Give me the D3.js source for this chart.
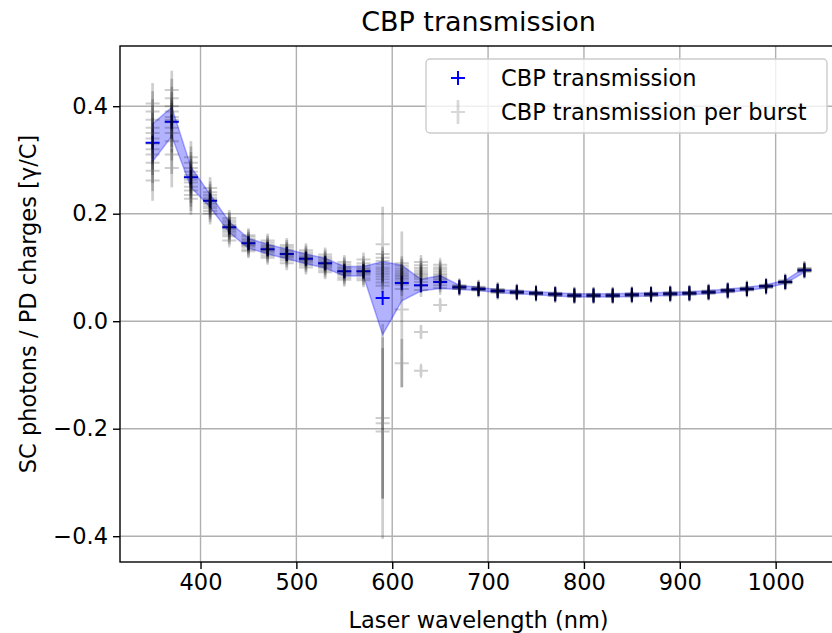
<!DOCTYPE html>
<html>
<head>
<meta charset="utf-8">
<script src="https://cdn.jsdelivr.net/npm/d3@7"></script>
<style>
    body { margin: 0; background: #fff; }
    text { font-family: "DejaVu Sans", sans-serif; fill: #000; }
</style>
</head>
<body>
<div id="Area"></div>
<script>
// ---------------------------------- Data ----------------------------------
var wavelengths = [350, 370, 390, 410, 430, 450, 470, 490, 510, 530, 550, 570, 590, 610, 630, 650, 670, 690,
    710, 730, 750, 770, 790, 810, 830, 850, 870, 890, 910, 930, 950, 970, 990, 1010, 1030];

// mean transmission per wavelength
var meanValues = [0.332, 0.371, 0.268, 0.224, 0.175, 0.145, 0.134, 0.125, 0.116, 0.108, 0.093, 0.093, 0.043,
    0.071, 0.067, 0.073, 0.063, 0.060, 0.056, 0.054, 0.052, 0.050, 0.048, 0.048, 0.048, 0.049, 0.050, 0.051,
    0.052, 0.054, 0.057, 0.060, 0.065, 0.073, 0.095];

// spread of the mean (shaded band)
var meanStd = [0.035, 0.027, 0.019, 0.012, 0.010, 0.009, 0.009, 0.009, 0.009, 0.009, 0.009, 0.009, 0.068,
    0.033, 0.011, 0.012, 0.004, 0.003, 0.003, 0.003, 0.003, 0.003, 0.003, 0.003, 0.003, 0.003, 0.003, 0.003,
    0.003, 0.003, 0.003, 0.003, 0.003, 0.003, 0.004];

// per burst values, one list per wavelength
var burstValues = [
    [0.405, 0.390, 0.375, 0.360, 0.350, 0.340, 0.330, 0.320, 0.310, 0.295, 0.280, 0.262],
    [0.430, 0.415, 0.400, 0.390, 0.380, 0.375, 0.370, 0.360, 0.350, 0.335, 0.310, 0.285],
    [0.305, 0.295, 0.285, 0.278, 0.272, 0.268, 0.263, 0.258, 0.250, 0.243, 0.235, 0.228],
    [0.248, 0.240, 0.235, 0.230, 0.227, 0.224, 0.221, 0.218, 0.214, 0.210, 0.205, 0.200],
    [0.192, 0.188, 0.184, 0.180, 0.178, 0.176, 0.174, 0.172, 0.169, 0.166, 0.162, 0.158],
    [0.160, 0.157, 0.153, 0.150, 0.148, 0.146, 0.144, 0.142, 0.140, 0.137, 0.133, 0.130],
    [0.150, 0.146, 0.142, 0.139, 0.137, 0.135, 0.133, 0.131, 0.129, 0.126, 0.122, 0.118],
    [0.142, 0.138, 0.134, 0.131, 0.128, 0.126, 0.124, 0.122, 0.120, 0.117, 0.113, 0.108],
    [0.132, 0.128, 0.124, 0.121, 0.119, 0.117, 0.115, 0.113, 0.111, 0.108, 0.104, 0.100],
    [0.124, 0.120, 0.116, 0.113, 0.110, 0.108, 0.106, 0.104, 0.102, 0.099, 0.095, 0.091],
    [0.110, 0.106, 0.102, 0.099, 0.096, 0.094, 0.092, 0.090, 0.088, 0.085, 0.081, 0.077],
    [0.115, 0.108, 0.103, 0.099, 0.096, 0.094, 0.092, 0.090, 0.088, 0.085, 0.080, 0.076],
    [0.125, 0.118, 0.112, 0.106, 0.100, 0.096, 0.092, 0.088, 0.083, 0.078, 0.072, 0.066],
    [0.108, 0.103, 0.098, 0.094, 0.090, 0.087, 0.084, 0.081, 0.078, 0.074, 0.068, 0.060],
    [0.110, 0.104, 0.099, 0.095, 0.091, 0.088, 0.085, 0.082, 0.078, 0.073, 0.066, 0.058],
    [0.105, 0.100, 0.096, 0.092, 0.088, 0.085, 0.082, 0.079, 0.076, 0.072, 0.067, 0.062],
    [0.067, 0.066, 0.065, 0.064, 0.063, 0.062, 0.061, 0.060],
    [0.064, 0.063, 0.062, 0.061, 0.060, 0.059, 0.058, 0.057],
    [0.060, 0.059, 0.058, 0.057, 0.056, 0.055, 0.054, 0.053],
    [0.057, 0.056, 0.055, 0.054, 0.054, 0.053, 0.052, 0.051],
    [0.055, 0.054, 0.053, 0.052, 0.052, 0.051, 0.050, 0.049],
    [0.053, 0.052, 0.051, 0.050, 0.050, 0.049, 0.048, 0.047],
    [0.051, 0.050, 0.049, 0.048, 0.048, 0.047, 0.046, 0.045],
    [0.051, 0.050, 0.049, 0.048, 0.048, 0.047, 0.046, 0.045],
    [0.051, 0.050, 0.049, 0.048, 0.048, 0.047, 0.046, 0.045],
    [0.052, 0.051, 0.050, 0.049, 0.049, 0.048, 0.047, 0.046],
    [0.053, 0.052, 0.051, 0.050, 0.050, 0.049, 0.048, 0.047],
    [0.054, 0.053, 0.052, 0.051, 0.051, 0.050, 0.049, 0.048],
    [0.055, 0.054, 0.053, 0.052, 0.052, 0.051, 0.050, 0.049],
    [0.057, 0.056, 0.055, 0.054, 0.054, 0.053, 0.052, 0.051],
    [0.060, 0.059, 0.058, 0.057, 0.057, 0.056, 0.055, 0.054],
    [0.063, 0.062, 0.061, 0.060, 0.060, 0.059, 0.058, 0.057],
    [0.068, 0.067, 0.066, 0.065, 0.065, 0.064, 0.063, 0.062],
    [0.076, 0.075, 0.074, 0.073, 0.073, 0.072, 0.071, 0.070],
    [0.099, 0.098, 0.097, 0.096, 0.095, 0.094, 0.093, 0.092]
];

// error bar of a single burst, per wavelength
var burstErr = [0.038, 0.036, 0.030, 0.020, 0.015, 0.012, 0.012, 0.012, 0.012, 0.012, 0.012, 0.012, 0.012,
    0.012, 0.012, 0.010, 0.005, 0.005, 0.005, 0.005, 0.005, 0.005, 0.005, 0.005, 0.005, 0.005, 0.005, 0.005,
    0.005, 0.005, 0.005, 0.005, 0.005, 0.005, 0.005];

// bursts far from the rest
var outlierWaves = [430, 590, 590, 590, 590, 610, 610, 630, 630, 650];
var outlierValues = [0.150, 0.143, -0.180, -0.190, -0.205, 0.022, -0.078, -0.020, -0.092, 0.030];
var outlierErrs = [0.010, 0.070, 0.150, 0.140, 0.200, 0.145, 0.045, 0.012, 0.010, 0.010];

var xTicks = [400, 500, 600, 700, 800, 900, 1000];
var yTicks = [-0.4, -0.2, 0.0, 0.2, 0.4];

// ---------------------------------- Layout ----------------------------------
var W = 832, H = 633;
var margin = { top: 46, right: -5, bottom: 71, left: 120 };
var width = W - margin.left - margin.right,
    height = H - margin.top - margin.bottom;

var svg = d3.select("#Area")
    .append("svg")
    .attr("width", W)
    .attr("height", H);

var g = svg.append("g")
    .attr("transform", "translate(" + margin.left + "," + margin.top + ")");

var x = d3.scaleLinear().domain([316, 1064]).range([0, width]);
var y = d3.scaleLinear().domain([-0.448, 0.512]).range([height, 0]);

// grid
g.append("g").selectAll("line").data(xTicks).enter().append("line")
    .attr("x1", function (d) { return x(d); }).attr("x2", function (d) { return x(d); })
    .attr("y1", 0).attr("y2", height)
    .attr("stroke", "#b0b0b0").attr("stroke-width", 1.4);
g.append("g").selectAll("line").data(yTicks).enter().append("line")
    .attr("y1", function (d) { return y(d); }).attr("y2", function (d) { return y(d); })
    .attr("x1", 0).attr("x2", width)
    .attr("stroke", "#b0b0b0").attr("stroke-width", 1.4);

var plot = g.append("g");

function plusPath(px, py, s) {
    return "M" + (px - s) + "," + py + "H" + (px + s) + "M" + px + "," + (py - s) + "V" + (py + s);
}

// band mean +- std
var band = wavelengths.map(function (w, i) { return { w: w, m: meanValues[i], s: meanStd[i] }; });
plot.append("path")
    .datum(band)
    .attr("d", d3.area()
        .x(function (d) { return x(d.w); })
        .y0(function (d) { return y(d.m - d.s); })
        .y1(function (d) { return y(d.m + d.s); }))
    .attr("fill", "blue").attr("fill-opacity", 0.3)
    .attr("stroke", "blue").attr("stroke-opacity", 0.3).attr("stroke-width", 1.5);

// mean markers
plot.append("g").selectAll("path").data(band).enter().append("path")
    .attr("d", function (d) { return plusPath(x(d.w), y(d.m), 7); })
    .attr("stroke", "blue").attr("stroke-width", 2).attr("fill", "none");

// per burst points
var bursts = [];
for (var i = 0; i < wavelengths.length; i++) {
    for (var j = 0; j < burstValues[i].length; j++) {
        bursts.push({ w: wavelengths[i], v: burstValues[i][j], e: burstErr[i] });
    }
}
for (var k = 0; k < outlierWaves.length; k++) {
    bursts.push({ w: outlierWaves[k], v: outlierValues[k], e: outlierErrs[k] });
}

var burstG = plot.append("g").selectAll("g").data(bursts).enter().append("g")
    .attr("opacity", 0.19);
burstG.append("line")
    .attr("x1", function (d) { return x(d.w); }).attr("x2", function (d) { return x(d.w); })
    .attr("y1", function (d) { return y(d.v - d.e); }).attr("y2", function (d) { return y(d.v + d.e); })
    .attr("stroke", "#000").attr("stroke-width", 2.7);
burstG.append("path")
    .attr("d", function (d) { return plusPath(x(d.w), y(d.v), 7); })
    .attr("stroke", "#000").attr("stroke-width", 2).attr("fill", "none");

// axes
var xAxis = g.append("g")
    .attr("transform", "translate(0," + height + ")")
    .call(d3.axisBottom(x).tickValues(xTicks).tickSize(7).tickPadding(5).tickFormat(d3.format("d")));
var yAxis = g.append("g")
    .call(d3.axisLeft(y).tickValues(yTicks).tickSize(7).tickPadding(5).tickFormat(function (d) {
        return d3.format(".1f")(d).replace("-", "\u2212");
    }));
[xAxis, yAxis].forEach(function (a) {
    a.selectAll("text").style("font-size", "22.5px").style("font-family", "DejaVu Sans");
    a.selectAll(".tick line").attr("stroke", "#000").attr("stroke-width", 1.4);
    a.select(".domain").remove();
});

// spines
g.append("rect")
    .attr("x", 0).attr("y", 0).attr("width", width).attr("height", height)
    .attr("fill", "none").attr("stroke", "#000").attr("stroke-width", 1.4);

// titles
svg.append("text")
    .attr("x", margin.left + width / 2).attr("y", 31)
    .attr("text-anchor", "middle").style("font-size", "27px")
    .text("CBP transmission");
svg.append("text")
    .attr("x", margin.left + width / 2).attr("y", 628)
    .attr("text-anchor", "middle").style("font-size", "22.5px")
    .text("Laser wavelength (nm)");
svg.append("text")
    .attr("transform", "translate(36," + (margin.top + height / 2) + ") rotate(-90)")
    .attr("text-anchor", "middle").style("font-size", "22.5px")
    .text("SC photons / PD charges [\u03b3/C]");

// ---------------------------------- Legend ----------------------------------
var legend = svg.append("g");
legend.append("rect")
    .attr("x", 426).attr("y", 59).attr("width", 401).attr("height", 74).attr("rx", 4)
    .attr("fill", "#fff").attr("fill-opacity", 0.8)
    .attr("stroke", "#cccccc").attr("stroke-width", 1.4);
legend.append("path")
    .attr("d", plusPath(458, 78, 7))
    .attr("stroke", "blue").attr("stroke-width", 2).attr("fill", "none");
legend.append("text").attr("x", 501).attr("y", 86).style("font-size", "22.5px").text("CBP transmission");
var lg = legend.append("g").attr("opacity", 0.15);
lg.append("line").attr("x1", 458).attr("x2", 458).attr("y1", 100).attr("y2", 124)
    .attr("stroke", "#000").attr("stroke-width", 2.7);
lg.append("path").attr("d", plusPath(458, 112, 7))
    .attr("stroke", "#000").attr("stroke-width", 2).attr("fill", "none");
legend.append("text").attr("x", 501).attr("y", 120).style("font-size", "22.5px").text("CBP transmission per burst");
</script>
</body>
</html>
